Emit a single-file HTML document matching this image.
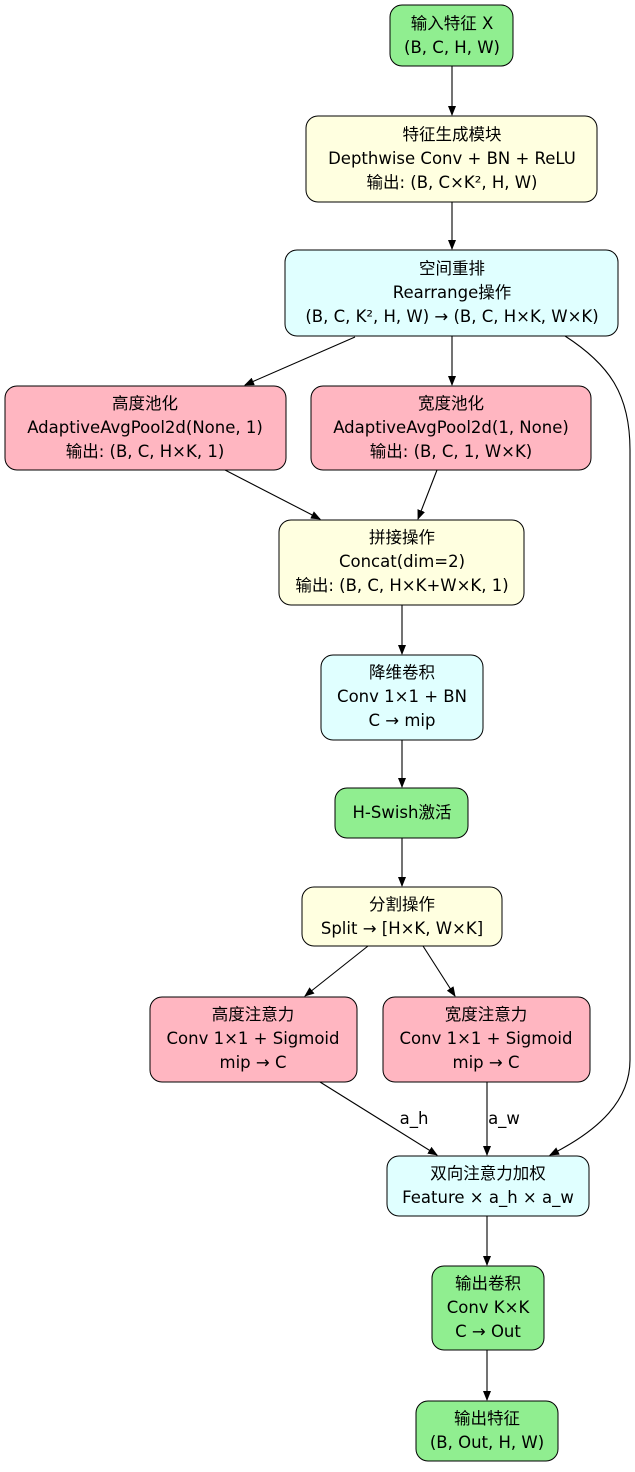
<!DOCTYPE html>
<html><head><meta charset="utf-8"><style>
html,body{margin:0;padding:0;background:#fff;}
svg text{font-family:"DejaVu Sans","Noto Sans CJK SC",sans-serif;font-size:16.5px;fill:#000;text-anchor:middle;}
.n{stroke:#000;stroke-width:1;}
.e{stroke:#000;stroke-width:1.1;fill:none;marker-end:url(#a);}
</style></head><body>
<svg width="635" height="1467" viewBox="0 0 635 1467" xmlns="http://www.w3.org/2000/svg">
<defs><marker id="a" markerWidth="10" markerHeight="8" refX="9" refY="4" orient="auto" markerUnits="userSpaceOnUse"><path d="M0,0 L10,4 L0,8 Z" fill="#000"/></marker></defs>

<rect class="n" x="390" y="5" width="123" height="61" rx="12" fill="#90EE90"/>
<text x="452" y="29">输入特征 X</text><text x="452" y="53">(B, C, H, W)</text>

<rect class="n" x="306" y="116" width="291" height="86" rx="12" fill="#FFFFE0"/>
<text x="452" y="140">特征生成模块</text><text x="452" y="164">Depthwise Conv + BN + ReLU</text><text x="452" y="188">输出: (B, C×K², H, W)</text>

<rect class="n" x="285" y="250" width="333" height="86" rx="12" fill="#E0FFFF"/>
<text x="452" y="274">空间重排</text><text x="452" y="298">Rearrange操作</text><text x="452" y="322">(B, C, K², H, W) → (B, C, H×K, W×K)</text>

<rect class="n" x="5" y="386" width="281" height="84" rx="12" fill="#FFB6C1"/>
<text x="145" y="409">高度池化</text><text x="145" y="433">AdaptiveAvgPool2d(None, 1)</text><text x="145" y="457">输出: (B, C, H×K, 1)</text>

<rect class="n" x="311" y="386" width="280" height="84" rx="12" fill="#FFB6C1"/>
<text x="451" y="409">宽度池化</text><text x="451" y="433">AdaptiveAvgPool2d(1, None)</text><text x="451" y="457">输出: (B, C, 1, W×K)</text>

<rect class="n" x="279" y="520" width="245" height="85" rx="12" fill="#FFFFE0"/>
<text x="402" y="543">拼接操作</text><text x="402" y="567">Concat(dim=2)</text><text x="402" y="591">输出: (B, C, H×K+W×K, 1)</text>

<rect class="n" x="321" y="655" width="162" height="85" rx="12" fill="#E0FFFF"/>
<text x="402" y="678">降维卷积</text><text x="402" y="702">Conv 1×1 + BN</text><text x="402" y="726">C → mip</text>

<rect class="n" x="335" y="788" width="133" height="50" rx="12" fill="#90EE90"/>
<text x="402" y="818">H-Swish激活</text>

<rect class="n" x="302" y="887" width="200" height="59" rx="12" fill="#FFFFE0"/>
<text x="402" y="910">分割操作</text><text x="402" y="934">Split → [H×K, W×K]</text>

<rect class="n" x="150" y="997" width="207" height="85" rx="12" fill="#FFB6C1"/>
<text x="253" y="1020">高度注意力</text><text x="253" y="1044">Conv 1×1 + Sigmoid</text><text x="253" y="1068">mip → C</text>

<rect class="n" x="383" y="997" width="207" height="85" rx="12" fill="#FFB6C1"/>
<text x="486" y="1020">宽度注意力</text><text x="486" y="1044">Conv 1×1 + Sigmoid</text><text x="486" y="1068">mip → C</text>

<rect class="n" x="387" y="1156" width="202" height="60" rx="12" fill="#E0FFFF"/>
<text x="488" y="1179">双向注意力加权</text><text x="488" y="1203">Feature × a_h × a_w</text>

<rect class="n" x="432" y="1266" width="112" height="84" rx="12" fill="#90EE90"/>
<text x="488" y="1289">输出卷积</text><text x="488" y="1313">Conv K×K</text><text x="488" y="1337">C → Out</text>

<rect class="n" x="416" y="1401" width="142" height="60" rx="12" fill="#90EE90"/>
<text x="487" y="1424">输出特征</text><text x="487" y="1448">(B, Out, H, W)</text>

<path class="e" d="M452,66 L452,115"/>
<path class="e" d="M452,202 L452,249"/>
<path class="e" d="M355,337 L245,385"/>
<path class="e" d="M452,336 L452,385"/>
<path class="e" d="M565,336 C610,365 630,395 630,450 L630,1060 C630,1100 600,1130 550,1155"/>
<path class="e" d="M225,470 L320,519"/>
<path class="e" d="M437,470 L418,519"/>
<path class="e" d="M402,605 L402,654"/>
<path class="e" d="M402,740 L402,787"/>
<path class="e" d="M402,838 L402,886"/>
<path class="e" d="M368,946 L305,996"/>
<path class="e" d="M423,946 L455,996"/>
<path class="e" d="M320,1082 L437,1155"/>
<path class="e" d="M487,1082 L487,1155"/>
<path class="e" d="M487,1216 L487,1265"/>
<path class="e" d="M487,1350 L487,1400"/>
<text x="414" y="1124">a_h</text>
<text x="504" y="1124">a_w</text>
</svg>
</body></html>
